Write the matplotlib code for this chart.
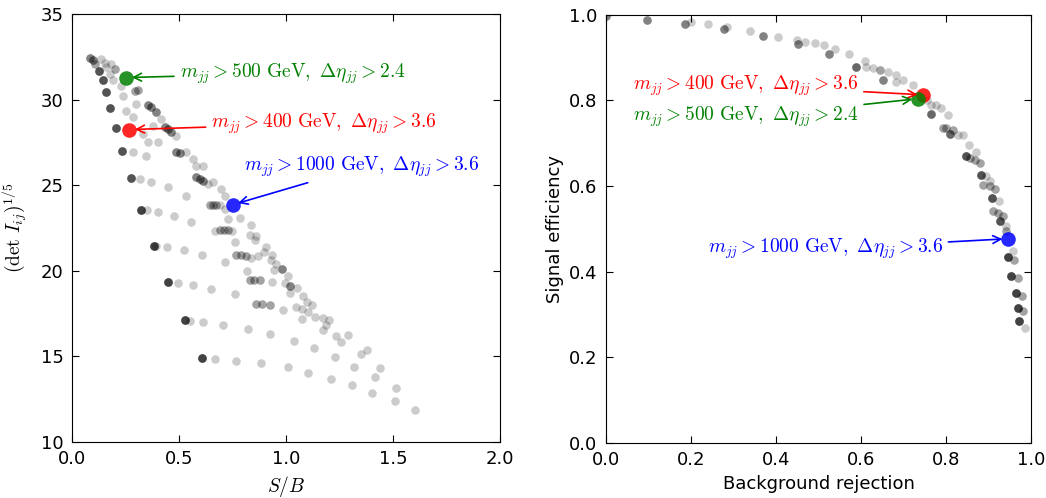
import numpy as np
import matplotlib
matplotlib.use('Agg')
import matplotlib.pyplot as plt

plt.rcParams['mathtext.fontset'] = 'cm'
plt.rcParams['xtick.direction'] = 'in'
plt.rcParams['ytick.direction'] = 'in'
plt.rcParams['xtick.top'] = True
plt.rcParams['ytick.right'] = True
plt.rcParams['xtick.major.size'] = 5
plt.rcParams['ytick.major.size'] = 5
plt.rcParams['xtick.major.pad'] = 6
plt.rcParams['ytick.major.pad'] = 6

# ---- left panel: S/B vs (det I)^(1/5), n = how many cuts sit on the same spot
sb = [0.085, 0.098, 0.109, 0.125, 0.137, 0.153, 0.161, 0.184, 0.200, 0.176,
      0.145, 0.192, 0.161, 0.231, 0.238, 0.179, 0.254, 0.293, 0.308, 0.301,
      0.285, 0.355, 0.371, 0.394, 0.418, 0.204, 0.433, 0.449, 0.464, 0.379,
      0.488, 0.402, 0.332, 0.355, 0.232, 0.285, 0.344, 0.488, 0.503, 0.535,
      0.565, 0.581, 0.612, 0.274, 0.316, 0.371, 0.449, 0.535, 0.581, 0.597,
      0.612, 0.636, 0.659, 0.698, 0.714,
      0.322, 0.350, 0.402, 0.475, 0.558, 0.645, 0.660, 0.675, 0.690, 0.714,
      0.729, 0.784, 0.835, 0.668, 0.690, 0.710, 0.730, 0.750, 0.760, 0.830,
      0.862, 0.858, 0.905, 0.896, 0.934, 0.932, 0.955, 0.980, 0.944, 1.009,
      0.382, 0.394, 0.444, 0.522, 0.607, 0.715, 0.768, 0.790, 0.815, 0.838,
      0.868, 0.816, 0.830, 0.850, 0.877, 0.933, 0.995, 1.021, 1.051, 1.021,
      1.079, 1.098, 1.121,
      0.449, 0.495, 0.565, 0.651, 0.764, 0.862, 0.890, 0.924, 0.986, 1.049,
      1.075, 1.103, 1.077, 1.136, 1.173, 1.201, 1.186, 1.173, 1.236, 1.256,
      1.292, 1.349, 1.379, 1.439,
      0.530, 0.551, 0.612, 0.706, 0.821, 0.928, 1.037, 1.133, 1.229, 1.318,
      1.419, 1.516,
      0.607, 0.668, 0.765, 0.883, 1.008, 1.105, 1.209, 1.307, 1.404, 1.511,
      1.603]
det = [32.45, 32.30, 32.10, 31.70, 32.40, 32.15, 31.90, 32.10, 31.80, 31.52,
       31.13, 31.13, 30.43, 30.80, 30.25, 29.53, 29.37, 30.54, 30.59, 29.77,
       28.98, 29.67, 29.57, 29.27, 28.89, 28.38, 28.40, 28.30, 28.10, 28.49,
       27.91, 27.52, 28.01, 27.52, 27.00, 26.93, 26.74, 26.93, 26.87, 26.93,
       26.54, 26.15, 26.15, 25.43, 25.37, 25.17, 24.88, 24.39, 25.47, 25.37,
       25.27, 25.08, 25.17, 24.79, 24.39,
       23.57, 23.56, 23.44, 23.20, 22.83, 23.87, 23.87, 23.87, 23.87, 23.63,
       23.03, 23.12, 22.68, 22.33, 22.38, 22.38, 22.38, 22.35, 21.70, 22.09,
       22.05, 21.80, 21.42, 21.13, 20.94, 20.63, 20.43, 20.13, 20.08, 19.71,
       21.48, 21.46, 21.41, 21.23, 20.94, 20.53, 20.94, 20.94, 20.90, 20.78,
       20.88, 20.02, 19.47, 19.47, 19.45, 19.37, 19.30, 19.14, 18.99, 18.71,
       18.52, 18.20, 17.99,
       19.34, 19.30, 19.18, 18.96, 18.65, 18.05, 18.05, 18.02, 17.72, 17.89,
       17.77, 17.58, 17.19, 17.31, 17.23, 17.13, 16.84, 16.53, 16.19, 15.84,
       16.27, 15.12, 15.35, 14.32,
       17.11, 17.07, 17.01, 16.85, 16.62, 16.31, 15.90, 15.47, 14.96, 14.39,
       13.79, 13.15,
       14.89, 14.85, 14.75, 14.59, 14.36, 14.02, 13.71, 13.32, 12.87, 12.40,
       11.86]
n_left = [3, 3, 2, 5, 1, 1, 1, 1, 2, 1,
          5, 1, 5, 1, 1, 5, 1, 2, 2, 1,
          1, 3, 3, 3, 1, 5, 3, 3, 3, 1,
          1, 1, 1, 1, 5, 1, 1, 3, 3, 1,
          1, 1, 1, 5, 1, 1, 1, 1, 3, 3,
          3, 1, 1, 1, 1,
          6, 1, 1, 1, 1, 2, 2, 2, 1, 1,
          1, 1, 1, 1, 2, 2, 2, 1, 1, 1,
          1, 1, 1, 1, 1, 1, 1, 3, 1, 1,
          6, 1, 1, 1, 1, 1, 2, 2, 2, 1,
          1, 1, 2, 2, 2, 1, 1, 3, 1, 1,
          1, 1, 1,
          6, 1, 1, 1, 1, 2, 2, 2, 1, 1,
          1, 1, 1, 1, 1, 1, 1, 1, 1, 1,
          1, 1, 1, 1,
          6, 1, 1, 1, 1, 1, 1, 1, 1, 1,
          1, 1,
          6, 1, 1, 1, 1, 1, 1, 1, 1, 1,
          1]

# ---- right panel: background rejection vs signal efficiency
rej = [0.0, 0.096, 0.187, 0.199, 0.240, 0.278, 0.286, 0.339, 0.370, 0.406,
       0.449, 0.453, 0.468, 0.491, 0.513, 0.525, 0.540, 0.572, 0.589, 0.609,
       0.613, 0.628, 0.644, 0.652, 0.664, 0.682, 0.683, 0.700, 0.722, 0.755,
       0.766, 0.777, 0.789, 0.764, 0.805, 0.793, 0.801, 0.816, 0.810, 0.828,
       0.840, 0.854, 0.871, 0.848, 0.856, 0.868, 0.879, 0.883, 0.895, 0.903,
       0.887, 0.903, 0.915, 0.908, 0.926, 0.911, 0.922, 0.934, 0.927, 0.942,
       0.942, 0.958, 0.946, 0.960, 0.954, 0.969, 0.966, 0.978, 0.969, 0.981,
       0.973, 0.985]
eff = [0.997, 0.987, 0.978, 0.982, 0.978, 0.966, 0.972, 0.961, 0.951, 0.948,
       0.940, 0.931, 0.936, 0.935, 0.930, 0.908, 0.920, 0.909, 0.879, 0.891,
       0.879, 0.875, 0.871, 0.847, 0.867, 0.860, 0.842, 0.848, 0.837, 0.800,
       0.790, 0.790, 0.782, 0.768, 0.767, 0.736, 0.736, 0.732, 0.722, 0.720,
       0.720, 0.697, 0.679, 0.671, 0.666, 0.661, 0.654, 0.625, 0.624, 0.612,
       0.603, 0.599, 0.592, 0.573, 0.564, 0.541, 0.537, 0.529, 0.519, 0.506,
       0.496, 0.448, 0.435, 0.428, 0.391, 0.386, 0.351, 0.343, 0.316, 0.308,
       0.284, 0.269]
n_right = [3, 3, 3, 1, 1, 3, 1, 1, 3, 1,
           1, 3, 1, 1, 1, 3, 1, 1, 4, 1,
           1, 1, 2, 3, 1, 1, 1, 1, 1, 1,
           1, 1, 1, 4, 1, 2, 2, 2, 4, 1,
           1, 1, 1, 5, 2, 2, 2, 5, 1, 1,
           2, 2, 2, 5, 1, 2, 2, 2, 5, 1,
           2, 1, 6, 2, 6, 2, 6, 2, 6, 2,
           6, 1]

# highlighted cut choices
labels = [r'$m_{jj} > 500\ \mathrm{GeV},\ \Delta\eta_{jj} > 2.4$',
          r'$m_{jj} > 400\ \mathrm{GeV},\ \Delta\eta_{jj} > 3.6$',
          r'$m_{jj} > 1000\ \mathrm{GeV},\ \Delta\eta_{jj} > 3.6$']
colors = ['g', 'r', 'b']
hl_sb = [0.254, 0.268, 0.752]
hl_det = [31.3, 28.26, 23.87]
hl_rej = [0.734, 0.746, 0.946]
hl_eff = [0.804, 0.813, 0.477]

fig = plt.figure(figsize=(10.46, 4.98), dpi=100)
ax1 = fig.add_axes([0.0688, 0.1124, 0.409, 0.859])
ax2 = fig.add_axes([0.5793, 0.1104, 0.4063, 0.860])

ax1.scatter(np.repeat(sb, n_left), np.repeat(det, n_left), s=38, c='k',
            alpha=0.2, linewidths=0)
for i in [0, 1, 2]:
    ax1.scatter(hl_sb[i], hl_det[i], s=110, c=colors[i], alpha=0.85,
                linewidths=0, zorder=3)
ax1.annotate(labels[0], xy=(hl_sb[0], hl_det[0]), xytext=(0.503, 31.55),
             color=colors[0], fontsize=14, va='center',
             arrowprops=dict(arrowstyle='->', color=colors[0], lw=1.2, shrinkB=4))
ax1.annotate(labels[1], xy=(hl_sb[1], hl_det[1]), xytext=(0.651, 28.62),
             color=colors[1], fontsize=14, va='center',
             arrowprops=dict(arrowstyle='->', color=colors[1], lw=1.2, shrinkB=4))
ax1.annotate(labels[2], xy=(hl_sb[2], hl_det[2]), xytext=(0.804, 26.08),
             color=colors[2], fontsize=14, va='center',
             arrowprops=dict(arrowstyle='->', color=colors[2], lw=1.2, shrinkB=4))
ax1.set_xlim(0, 2.0)
ax1.set_ylim(10, 35)
ax1.set_xticks([0.0, 0.5, 1.0, 1.5, 2.0])
ax1.set_xlabel(r'$S/B$', fontsize=14)
ax1.set_ylabel(r'$(\mathrm{det}\ I_{ij})^{1/5}$', fontsize=14, labelpad=8)
ax1.tick_params(labelsize=13)

ax2.scatter(np.repeat(rej, n_right), np.repeat(eff, n_right), s=38, c='k',
            alpha=0.2, linewidths=0)
for i in [1, 0, 2]:
    ax2.scatter(hl_rej[i], hl_eff[i], s=110, c=colors[i], alpha=0.85,
                linewidths=0, zorder=3)
ax2.annotate(labels[1], xy=(hl_rej[1], hl_eff[1]), xytext=(0.063, 0.835),
             color=colors[1], fontsize=14, va='center',
             arrowprops=dict(arrowstyle='->', color=colors[1], lw=1.2, shrinkB=4))
ax2.annotate(labels[0], xy=(hl_rej[0], hl_eff[0]), xytext=(0.063, 0.761),
             color=colors[0], fontsize=14, va='center',
             arrowprops=dict(arrowstyle='->', color=colors[0], lw=1.2, shrinkB=4))
ax2.annotate(labels[2], xy=(hl_rej[2], hl_eff[2]), xytext=(0.239, 0.454),
             color=colors[2], fontsize=14, va='center',
             arrowprops=dict(arrowstyle='->', color=colors[2], lw=1.2, shrinkB=4))
ax2.set_xlim(0, 1.0)
ax2.set_ylim(0, 1.0)
ax2.set_xlabel('Background rejection', fontsize=13)
ax2.set_ylabel('Signal efficiency', fontsize=13)
ax2.tick_params(labelsize=13)

fig.savefig('out.png', dpi=100, facecolor='white')
